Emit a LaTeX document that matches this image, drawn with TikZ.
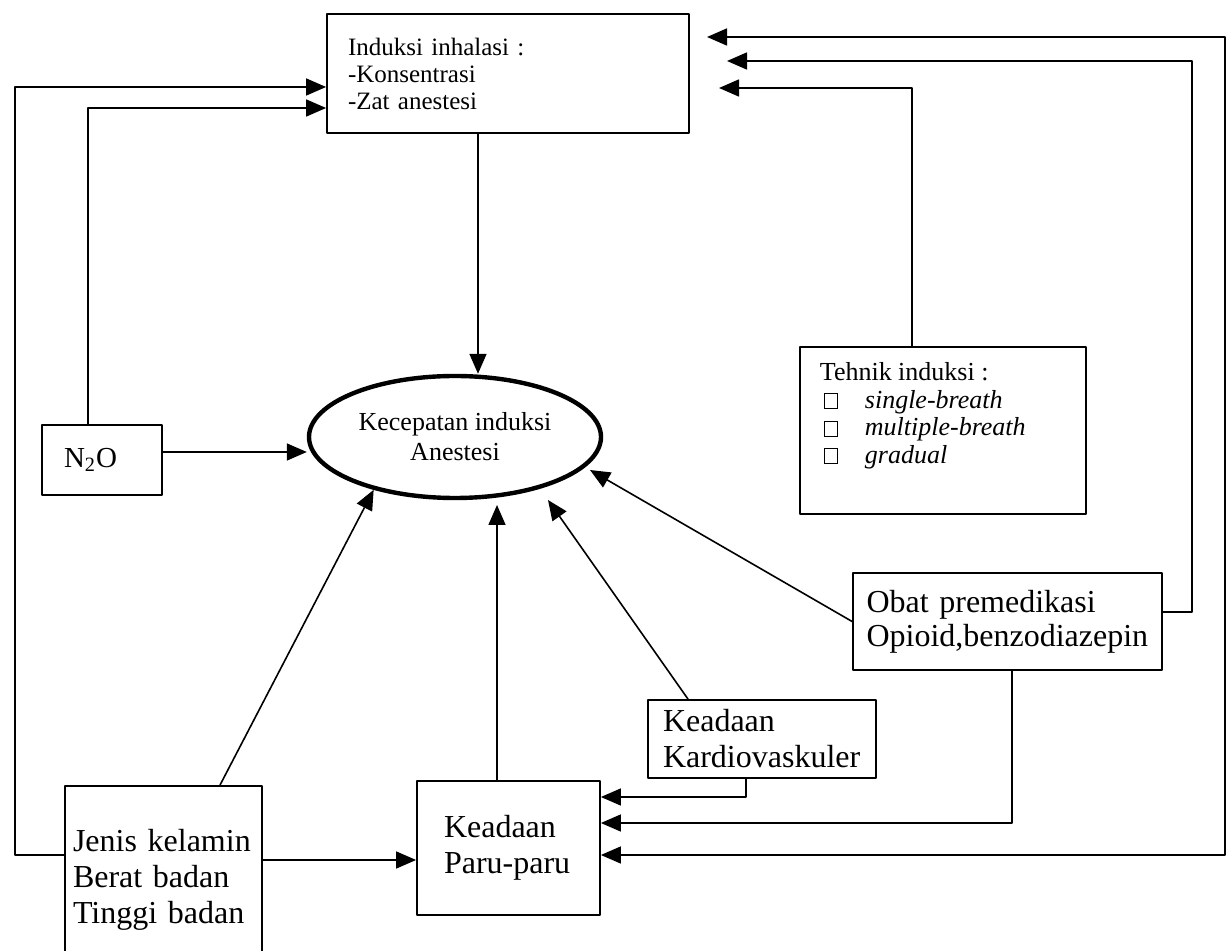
\documentclass[tikz,border=0pt]{standalone}
\usepackage{fontspec}
\setmainfont{Liberation Serif}
\usetikzlibrary{arrows.meta,shapes.geometric}
\tikzset{
  kotak/.style={draw, line width=0.9pt, inner sep=0pt},
  hubung/.style={line width=0.8pt},
  panah/.style={hubung, -{Triangle[length=10pt,width=8.5pt]}},
  panahdua/.style={hubung, {Triangle[length=10pt,width=8.5pt]}-{Triangle[length=10pt,width=8.5pt]}},
  teksbesar/.style={font=\fontsize{16}{18}\selectfont},
  tekskecil/.style={font=\fontsize{12.5}{13.5}\selectfont},
}
\newcommand{\cekbox}{{\setlength{\fboxsep}{0pt}\setlength{\fboxrule}{0.5pt}\fbox{\rule{0pt}{7pt}\hspace{6pt}}}}

\begin{document}
\begin{tikzpicture}[x=0.5pt, y=-0.5pt, line join=round]
\useasboundingbox (0,0) rectangle (1227,951);

% kotak
\node[kotak, tekskecil, minimum width=181pt, minimum height=59.5pt, text width=160pt, align=left] (induksi) at (508,73.5) {Induksi inhalasi :\\-Konsentrasi\\-Zat anestesi};
\node[draw, ellipse, line width=2.2pt, minimum width=146pt, minimum height=61pt, inner sep=0pt, align=center, font=\fontsize{13}{15}\selectfont] (kecepatan) at (455,437) {Kecepatan induksi\\Anestesi};
\node[kotak, minimum width=60pt, minimum height=35pt, text width=38pt, align=left, font=\fontsize{14.5}{16}\selectfont] (n2o) at (102,460) {N\textsubscript{2}O};
\node[kotak, anchor=north west, inner xsep=10pt, font=\fontsize{13}{13.7}\selectfont] (tehnik) at (799,346) {\parbox[t][83.5pt][t]{123pt}{\vspace*{8pt}Tehnik induksi :\\
  \hspace*{2pt}\makebox[20.5pt][l]{\cekbox}\textit{single-breath}\\
  \hspace*{2pt}\makebox[20.5pt][l]{\cekbox}\textit{multiple-breath}\\
  \hspace*{2pt}\makebox[20.5pt][l]{\cekbox}\textit{gradual}}};
\node[kotak, teksbesar, font=\fontsize{16}{17}\selectfont, minimum width=154.5pt, minimum height=48.5pt, text width=141pt, align=left] (obat) at (1007.5,621.5) {Obat premedikasi\\Opioid,benzodiazepin};
\node[kotak, teksbesar, minimum width=114pt, minimum height=39pt, text width=99pt, align=left] (kardio) at (762,739) {Keadaan\\Kardiovaskuler};
\node[kotak, teksbesar, minimum width=91.5pt, minimum height=67pt, text width=64.5pt, align=left] (paru) at (508.5,848) {Keadaan\\Paru-paru};
\node[kotak, teksbesar, minimum width=98.5pt, minimum height=94pt, text width=90.5pt, align=left] (jenis) at (163.5,880) {Jenis kelamin\\Berat badan\\Tinggi badan};

% titik bantu
\coordinate (kiriBawah) at (15,855);
\coordinate (kiriAtas) at (15,87);
\coordinate (n2oAtas) at (88,108);
\coordinate (tengah) at (478,0);
\coordinate (jenisX) at (220,0);
\coordinate (kardioX) at (688,0);
\coordinate (jpY) at (0,860);
\coordinate (ujungA) at (707,37);
\coordinate (ujungB) at (727,61);
\coordinate (ujungC) at (719,88);
\coordinate (ujungP) at (497,505);
\coordinate (ujungK) at (548,500);
\coordinate (ujungO) at (590,470);
\coordinate (kananAtas) at (1225,37);
\coordinate (kananBawah) at (1225,855);
\coordinate (sudutB) at (1192,61);
\coordinate (obatKanan) at (1192,612);
\coordinate (tehnikAtas) at (912,88);
\coordinate (kardioBawah) at (746,797);
\coordinate (obatBawah) at (1012,823);

% panah ke induksi
\draw[panah] (jenis.west |- kiriBawah) -- (kiriBawah) -- (kiriAtas) -- (induksi.west |- kiriAtas);
\draw[panah] (n2o.north -| n2oAtas) -- (n2oAtas) -- (induksi.west |- n2oAtas);
\draw[panah] (obat.east |- obatKanan) -- (obatKanan) -- (sudutB) -- (ujungB);
\draw[panah] (tehnik.north -| tehnikAtas) -- (tehnikAtas) -- (ujungC);
\draw[panahdua] (ujungA) -- (kananAtas) -- (kananBawah) -- (paru.east |- kananBawah);

% panah ke kecepatan induksi
\draw[panah] (induksi.south -| tengah) -- (kecepatan.north -| tengah);
\draw[panah] ([yshift=4pt]n2o.east) -- ([yshift=4pt]n2o.east -| kecepatan.west);
\draw[panah] (jenis.north -| jenisX) -- (kecepatan.213);
\draw[panah] (paru.north -| ujungP) -- (ujungP);
\draw[panah] (kardio.north -| kardioX) -- (ujungK);
\draw[panah] (obat.west) -- (ujungO);

% panah ke paru-paru
\draw[panah] (jenis.east |- jpY) -- (paru.west |- jpY);
\draw[panah] (kardio.south -| kardioBawah) -- (kardioBawah) -- (paru.east |- kardioBawah);
\draw[panah] (obat.south -| obatBawah) -- (obatBawah) -- (paru.east |- obatBawah);
\end{tikzpicture}
\end{document}
